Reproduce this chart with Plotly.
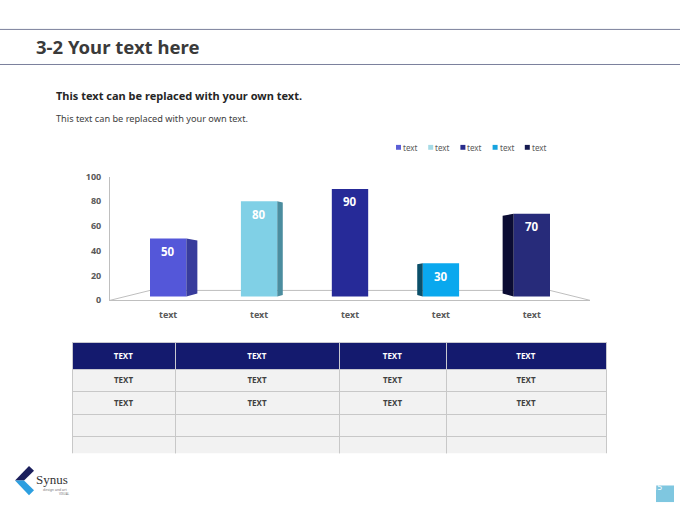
import plotly.graph_objects as go

# chart data
categories = ["text", "text", "text", "text", "text"]
series_names = ["text", "text", "text", "text", "text"]
values = [50, 80, 90, 30, 70]
y_ticks = [0, 20, 40, 60, 80, 100]

# table data
table_header = ["TEXT", "TEXT", "TEXT", "TEXT"]
table_rows = [
    ["TEXT", "TEXT", "TEXT", "TEXT"],
    ["TEXT", "TEXT", "TEXT", "TEXT"],
    ["", "", "", ""],
    ["", "", "", ""],
]
table_col_widths = [103, 164, 107, 160]

# colours
front_colors = ["#5457d9", "#80d0e6", "#262a98", "#0aa8ee", "#272b7a"]
side_colors = ["#383c9c", "#4b8d9f", "#1a1d70", "#0b4f69", "#0b0c33"]
legend_colors = ["#5b5fd6", "#a6dbe6", "#282c8c", "#16a3df", "#151a4f"]

W, H = 680, 510
FONT = "Noto Sans"
GREY = "#595959"

# plot area in pixels
PX_L, PX_R = 110, 590
PY_TOP, PY_BOT = 174, 301
X_RANGE = [-0.64, 4.64]
Y_RANGE = [0, 100]
ux = (X_RANGE[1] - X_RANGE[0]) / (PX_R - PX_L)
uy = (Y_RANGE[1] - Y_RANGE[0]) / (PY_BOT - PY_TOP)

BAR_W = 0.4
BAR_BASE = 3


def fx(px):
    return px / W


def fy(py):
    return 1 - py / H


fig = go.Figure()

for i, v in enumerate(values):
    fig.add_trace(go.Bar(
        x=[i], y=[v - BAR_BASE], base=BAR_BASE,
        width=BAR_W, name=series_names[i],
        marker=dict(color=front_colors[i], line=dict(width=0)),
        showlegend=False, hoverinfo="skip",
    ))

shapes = []
annotations = []

# value labels just under the top of each bar
for i, v in enumerate(values):
    annotations.append(dict(x=i, y=v, xref="x", yref="y", text=f"<b>{v}</b>",
                            showarrow=False, yshift=-13, yanchor="middle",
                            font=dict(color="white", size=11.5, family=FONT)))

# 3d side faces, facing the centre of the chart
mid = (len(values) - 1) / 2
for i, v in enumerate(values):
    k = i - mid
    depth = 5.5 * abs(k)
    if depth == 0:
        continue
    if k < 0:
        xe = i + BAR_W / 2
        xb = xe + depth * ux
    else:
        xe = i - BAR_W / 2
        xb = xe - depth * ux
    yt = v - 0.2 * depth * uy
    yb = BAR_BASE + 0.3 * depth * uy
    shapes.append(dict(
        type="path", xref="x", yref="y",
        path=f"M{xe},{BAR_BASE} L{xe},{v} L{xb},{yt} L{xb},{yb} Z",
        fillcolor=side_colors[i], line=dict(width=0), layer="above",
    ))

# floor of the 3d chart
back_y = 8
inset = 40 * ux
floor_line = dict(color="#bfbfbf", width=1)
shapes += [
    dict(type="line", xref="x", yref="y", x0=X_RANGE[0], y0=0,
         x1=X_RANGE[0] + inset, y1=back_y, line=floor_line, layer="below"),
    dict(type="line", xref="x", yref="y", x0=X_RANGE[0] + inset, y0=back_y,
         x1=X_RANGE[1] - inset, y1=back_y, line=floor_line, layer="below"),
    dict(type="line", xref="x", yref="y", x0=X_RANGE[1] - inset, y0=back_y,
         x1=X_RANGE[1], y1=0, line=floor_line, layer="below"),
]

# header rules
for yy in (23, 59):
    shapes.append(dict(type="line", xref="paper", yref="paper",
                       x0=0, x1=1, y0=fy(yy), y1=fy(yy),
                       line=dict(color="#7b809c", width=1)))

# legend drawn by hand so the swatch sits tight against the label
LEG_X0, LEG_STEP, LEG_Y = 396, 32.2, 144
for i, name in enumerate(series_names):
    x0 = LEG_X0 + i * LEG_STEP
    shapes.append(dict(type="rect", xref="paper", yref="paper",
                       x0=fx(x0), x1=fx(x0 + 5), y0=fy(LEG_Y + 2.5), y1=fy(LEG_Y - 2.5),
                       fillcolor=legend_colors[i], line=dict(width=0)))
    annotations.append(dict(x=fx(x0 + 5), y=fy(LEG_Y), xref="paper", yref="paper",
                            text=name, showarrow=False, xanchor="left", yanchor="middle",
                            font=dict(size=8, color=GREY, family=FONT)))

# titles
annotations += [
    dict(x=fx(34), y=fy(41), text="<b>3-2 Your text here</b>",
         font=dict(size=18.5, color="#3a3a3a", family=FONT)),
    dict(x=fx(54), y=fy(91), text="<b>This text can be replaced with your own text.</b>",
         font=dict(size=11, color="#262626", family=FONT)),
    dict(x=fx(54), y=fy(114), text="This text can be replaced with your own text.",
         font=dict(size=9.2, color="#404040", family=FONT)),
]
for a in annotations[-3:]:
    a.update(xref="paper", yref="paper", showarrow=False, xanchor="left", yanchor="middle")

# logo
shapes += [
    dict(type="path", xref="paper", yref="paper",
         path=f"M{fx(29)},{fy(471)} L{fx(34)},{fy(476)} L{fx(24)},{fy(486)} L{fx(15)},{fy(486)} Z",
         fillcolor="#1b1f5c", line=dict(width=0)),
    dict(type="path", xref="paper", yref="paper",
         path=f"M{fx(15)},{fy(486)} L{fx(24)},{fy(486)} L{fx(34)},{fy(496)} L{fx(29)},{fy(501)} Z",
         fillcolor="#2d9fe0", line=dict(width=0)),
]
annotations += [
    dict(x=fx(34), y=fy(485), text="Synus", font=dict(size=13, color="#333333", family="Liberation Serif")),
    dict(x=fx(41), y=fy(495.5), text="design and art", font=dict(size=3.5, color="#777777", family=FONT)),
    dict(x=fx(57), y=fy(499.5), text="VISUAL", font=dict(size=3, color="#777777", family=FONT)),
]
for a in annotations[-3:]:
    a.update(xref="paper", yref="paper", showarrow=False, xanchor="left", yanchor="middle")

# page number
shapes.append(dict(type="rect", xref="paper", yref="paper",
                   x0=fx(656), x1=fx(674), y0=fy(508), y1=fy(491),
                   fillcolor="#7fc7e0", line=dict(width=0)))
annotations.append(dict(x=fx(665), y=fy(499.5), xref="paper", yref="paper", text="15",
                        showarrow=False, font=dict(size=8, color="white", family=FONT)))

# table under the chart
fig.add_trace(go.Table(
    domain=dict(x=[fx(72), fx(606)], y=[fy(458), fy(344)]),
    columnwidth=table_col_widths,
    header=dict(values=[f"<b>{h}</b>" for h in table_header],
                fill_color="#141a6e", line_color="#c8c8d0", align="center", height=23,
                font=dict(color="white", size=8, family=FONT)),
    cells=dict(values=[list(col) for col in zip(*table_rows)],
               fill_color="#f2f2f2", line_color="#c8c8c8", align="center", height=22.5,
               font=dict(color="#404040", size=8, family=FONT, weight="bold")),
))

fig.update_layout(
    width=W, height=H,
    margin=dict(l=0, r=0, t=0, b=0),
    paper_bgcolor="white", plot_bgcolor="white",
    barmode="overlay", showlegend=False,
    shapes=shapes, annotations=annotations,
    xaxis=dict(domain=[fx(PX_L), fx(PX_R)], range=X_RANGE,
               tickvals=list(range(len(categories))), ticktext=categories,
               showline=True, linecolor="#bfbfbf", ticks="", showgrid=False, zeroline=False,
               ticklabelstandoff=6,
               tickfont=dict(size=9, color=GREY, family=FONT, weight="bold")),
    yaxis=dict(domain=[fy(PY_BOT), fy(PY_TOP)], range=Y_RANGE,
               tickvals=y_ticks, showline=True, linecolor="#bfbfbf", ticks="",
               showgrid=False, zeroline=False, ticklabelstandoff=6,
               tickfont=dict(size=9, color=GREY, family=FONT, weight="bold")),
)

# page has a default 8px body margin; drop it so the figure fills the window
fig.write_html("out.html", config={"displayModeBar": False},
               post_script="document.body.style.margin='0';document.body.style.overflow='hidden';")
